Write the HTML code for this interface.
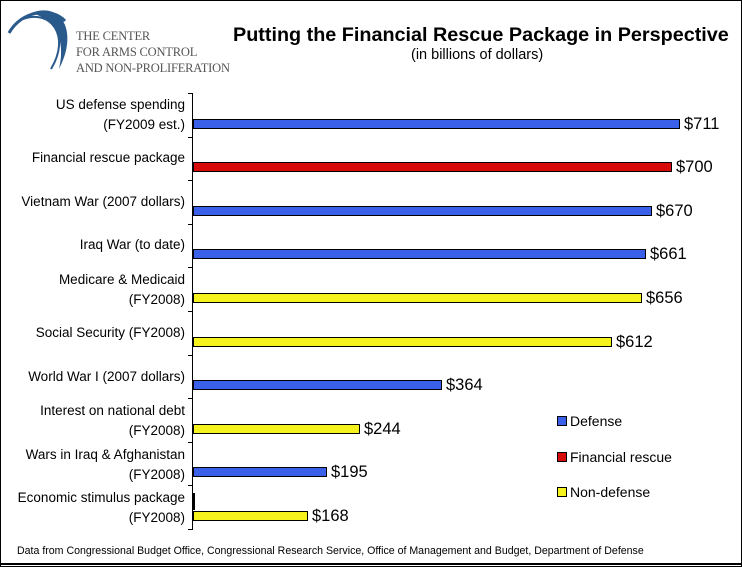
<!DOCTYPE html>
<html><head><style>
body{margin:0;background:#fff;}
.w{position:relative;width:740px;height:565px;border:1px solid #000;overflow:hidden;font-family:"Liberation Sans",sans-serif;}
.t{position:absolute;white-space:nowrap;}
.lab{position:absolute;right:556px;text-align:right;font-size:13.5px;line-height:20px;color:#000;}
.bar{position:absolute;left:192px;height:10px;border:1px solid #000;box-sizing:border-box;}
.b{background:#3a5fe8}.r{background:#d80b0b}.y{background:#f5f21e}
.v{position:absolute;font-size:16.5px;line-height:16px;}
.lg{position:absolute;width:10px;height:10px;border:1px solid #000;box-sizing:border-box;left:556px;}
.lt{position:absolute;left:569px;font-size:14px;line-height:14px;}
.logo{font-family:"Liberation Serif",serif;color:#555;font-size:12.5px;line-height:16px;letter-spacing:-0.2px;}
</style></head><body><div class="w">
<svg style="position:absolute;left:0;top:0" width="80" height="75">
<path d="M8,32 C20,10 50,5 64,20" stroke="#2a5a8c" stroke-width="3" fill="none"/>
<path d="M30,12 C60,0 78,30 58,68 C65,40 55,18 30,12Z" fill="#2a5a8c"/>
<path d="M22,18 C50,8 70,35 50,68" stroke="#2a5a8c" stroke-width="2" fill="none"/>
</svg>
<div class="t logo" style="left:75px;top:27px">THE CENTER<br>FOR ARMS CONTROL<br>AND NON-PROLIFERATION</div>
<div class="t" style="left:232px;top:23px;font-size:19.8px;font-weight:bold">Putting the Financial Rescue Package in Perspective</div>
<div class="t" style="left:410px;top:46px;font-size:14.5px">(in billions of dollars)</div>
<div style="position:absolute;left:191px;top:92px;width:1px;height:436px;background:#000"></div>
<div id="ticks"></div>
<div class="lab" style="top:94px">US defense spending<br>(FY2009 est.)</div>
<div class="lab" style="top:147px">Financial rescue package</div>
<div class="lab" style="top:191px">Vietnam War (2007 dollars)</div>
<div class="lab" style="top:234px">Iraq War (to date)</div>
<div class="lab" style="top:269px">Medicare &amp; Medicaid<br>(FY2008)</div>
<div class="lab" style="top:322px">Social Security (FY2008)</div>
<div class="lab" style="top:366px">World War I (2007 dollars)</div>
<div class="lab" style="top:400px">Interest on national debt<br>(FY2008)</div>
<div class="lab" style="top:444px">Wars in Iraq &amp; Afghanistan<br>(FY2008)</div>
<div class="lab" style="top:487px">Economic stimulus package<br>(FY2008)</div>

<div class="bar b" style="top:118px;width:487px"></div><div class="v" style="left:683px;top:115px">$711</div>
<div class="bar r" style="top:161px;width:479px"></div><div class="v" style="left:675px;top:158px">$700</div>
<div class="bar b" style="top:205px;width:459px"></div><div class="v" style="left:655px;top:202px">$670</div>
<div class="bar b" style="top:248px;width:453px"></div><div class="v" style="left:649px;top:245px">$661</div>
<div class="bar y" style="top:292px;width:449px"></div><div class="v" style="left:645px;top:289px">$656</div>
<div class="bar y" style="top:336px;width:419px"></div><div class="v" style="left:615px;top:333px">$612</div>
<div class="bar b" style="top:379px;width:249px"></div><div class="v" style="left:445px;top:376px">$364</div>
<div class="bar y" style="top:423px;width:167px"></div><div class="v" style="left:363px;top:420px">$244</div>
<div class="bar b" style="top:466px;width:134px"></div><div class="v" style="left:330px;top:463px">$195</div>
<div class="bar b" style="top:492px;width:2px;height:8px"></div>
<div class="bar r" style="top:500px;width:2px;height:9px"></div>
<div class="bar y" style="top:510px;width:115px"></div><div class="v" style="left:311px;top:507px">$168</div>

<div class="lg b" style="top:415px"></div><div class="lt" style="top:413px">Defense</div>
<div class="lg r" style="top:451px"></div><div class="lt" style="top:449px">Financial rescue</div>
<div class="lg y" style="top:486px"></div><div class="lt" style="top:484px">Non-defense</div>
<div class="t" style="left:16px;top:544px;font-size:10.6px">Data from Congressional Budget Office, Congressional Research Service, Office of Management and Budget, Department of Defense</div>
<div style="position:absolute;left:0;top:562px;width:740px;height:2px;background:#000"></div>
</div>
<script>
var h='';for(var i=0;i<=10;i++){h+='<div style="position:absolute;left:187px;top:'+Math.round(92+i*43.6)+'px;width:5px;height:1px;background:#000"></div>';}
document.getElementById('ticks').innerHTML=h;
</script>
</body></html>
